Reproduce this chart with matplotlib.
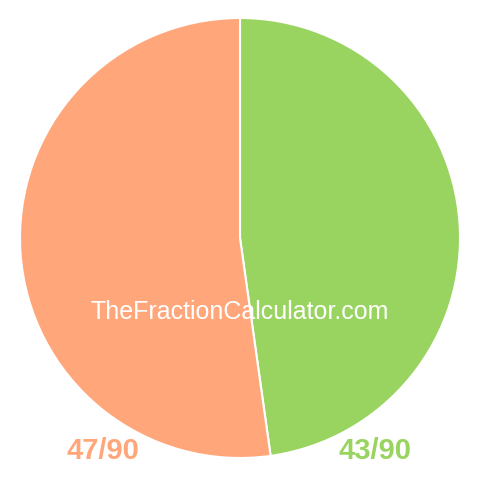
import matplotlib
matplotlib.use("Agg")
import matplotlib.pyplot as plt

labels = ["43/90", "47/90"]
values = [43, 47]
colors = ["#99d461", "#ffa67b"]

plt.rcParams['font.family'] = ['Liberation Sans', 'DejaVu Sans']

fig = plt.figure(figsize=(4.8, 4.8), dpi=100)
ax = fig.add_axes([20 / 480, 22 / 480, 440 / 480, 440 / 480])
ax.pie(values, colors=colors, startangle=90, counterclock=False,
       wedgeprops=dict(edgecolor='white', linewidth=1.5))
ax.set_xlim(-1, 1)
ax.set_ylim(-1, 1)
ax.set_aspect('equal')
ax.axis('off')

fig.text(240 / 480, 1 - 312 / 480, "TheFractionCalculator.com", color='white',
         fontsize=18, ha='center', va='center')
fig.text(103 / 480, 1 - 451 / 480, labels[1], color=colors[1], fontsize=21,
         fontweight='bold', ha='center', va='center')
fig.text(375 / 480, 1 - 451 / 480, labels[0], color=colors[0], fontsize=21,
         fontweight='bold', ha='center', va='center')

fig.savefig("out.png", dpi=100)
